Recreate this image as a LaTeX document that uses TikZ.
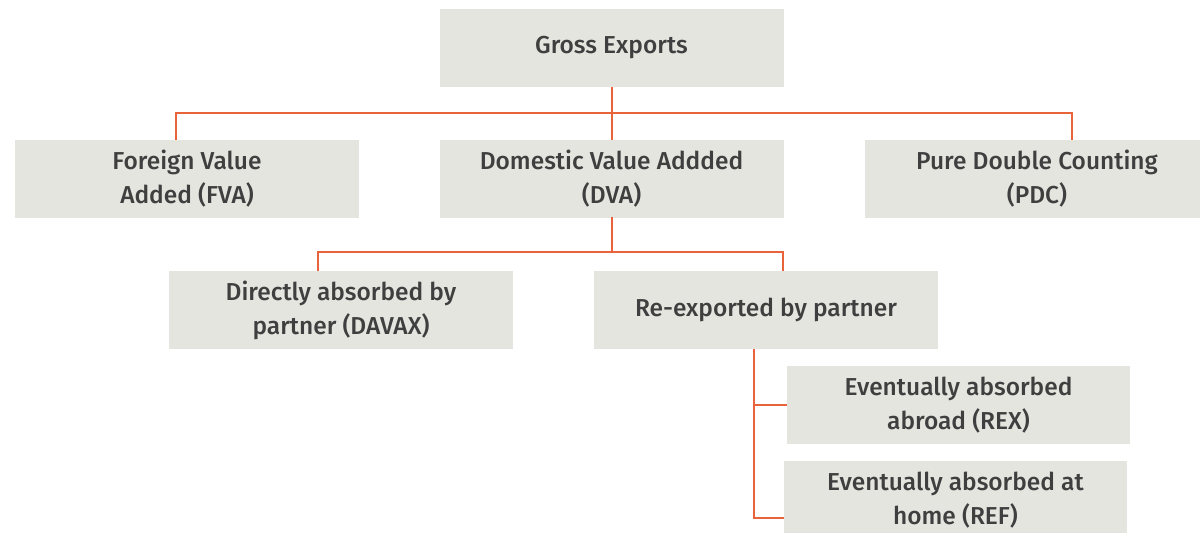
\documentclass[tikz,border=0pt]{standalone}
\usepackage{fontspec}
\setmainfont{Fira Sans}[UprightFont={* Medium}]
\usepackage{xcolor}
\usepackage{tikz}
\definecolor{boxfill}{HTML}{E5E5E0}
\definecolor{txt}{HTML}{3F3F3F}
\definecolor{lnk}{HTML}{E8633A}
\tikzset{
    blk/.style={fill=boxfill, minimum width=344pt, minimum height=78pt, inner sep=0pt,
        align=center, text=txt, font=\fontsize{24.5pt}{34pt}\selectfont},
    link/.style={lnk, line width=2pt}
}

\begin{document}
\begin{tikzpicture}[x=1pt, y=-1pt]
        \useasboundingbox (0,0) rectangle (1200,533);
        \node [blk] (gross) at (611.5,48) {Gross Exports};
        \node [blk] (fva) at (187,179) {Foreign Value\\Added (FVA)};
        \node [blk] (dva) at (611.5,179) {Domestic Value Addded\\(DVA)};
        \node [blk] (pdc) at (1037,179) {Pure Double Counting\\(PDC)};
        \node [blk] (davax) at (341,310) {Directly absorbed by\\partner (DAVAX)};
        \node [blk] (reexp) at (766,310) {Re-exported by partner};
        \node [blk, minimum width=343pt] (rex) at (958.5,405) {Eventually absorbed\\abroad (REX)};
        \node [blk, minimum width=343pt] (ref) at (955.5,500) {Eventually absorbed at\\home (REF)};
        % first level
        \draw [link] (gross.south) -- (dva.north);
        \draw [link] ([xshift=-11pt]fva.north) -- ++(0,-27) -| ([xshift=35pt]pdc.north);
        % second level
        \draw [link] ([yshift=1pt]dva.south) -- ++(0,35);
        \draw [link] ([xshift=-23pt]davax.north) -- ++(0,-19) -| ([xshift=17pt]reexp.north);
        % re-exported branch
        \draw [link] ([xshift=-12pt]reexp.south) |- (rex.west);
        \draw [link] ([xshift=-12pt]reexp.south) |- ([yshift=-18pt]ref.west);
    \end{tikzpicture}
\end{document}
